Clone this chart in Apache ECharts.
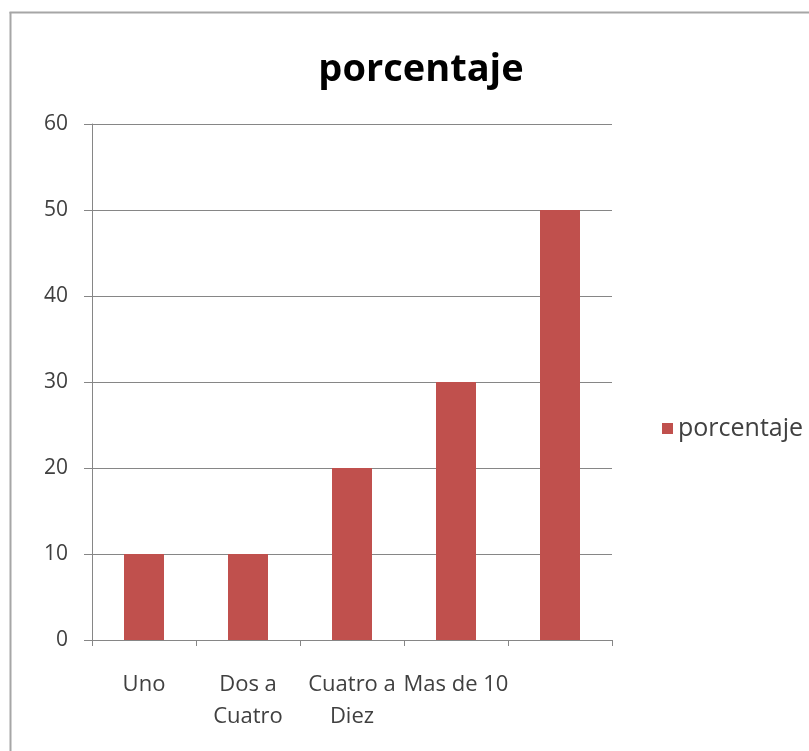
<!DOCTYPE html>
<html>
<head>
<meta charset="utf-8">
<script src="https://cdn.jsdelivr.net/npm/echarts@6/dist/echarts.min.js"></script>
<style>
html,body{margin:0;padding:0;background:#fff;}
#chart{width:809px;height:751px;}
</style>
</head>
<body>
<div id="chart"></div>
<script>
var titleText = "porcentaje";
var seriesName = "porcentaje";
var categories = ["Uno", "Dos a\nCuatro", "Cuatro a\nDiez", "Mas de 10", ""];
var values = [10, 10, 20, 30, 50];
var yMin = 0, yMax = 60, yInterval = 10;

var chart = echarts.init(document.getElementById('chart'));
chart.setOption({
  backgroundColor: '#ffffff',
  animation: false,
  title: {
    text: titleText,
    left: 416, top: 46,
    textAlign: 'center',
    textStyle: { fontFamily: 'Open Sans', fontWeight: 'bold', fontSize: 38, color: '#000' }
  },
  legend: {
    data: [seriesName],
    orient: 'vertical',
    left: 657, top: 411,
    itemWidth: 11, itemHeight: 11,
    icon: 'rect',
    textStyle: { fontFamily: 'Open Sans', fontSize: 25, color: '#404040' }
  },
  grid: { left: 92, right: 197, top: 124, bottom: 111, containLabel: false },
  xAxis: {
    type: 'category',
    data: categories,
    axisLine: { lineStyle: { color: '#868686', width: 1 } },
    axisTick: { show: true, length: 6, lineStyle: { color: '#868686' } },
    axisLabel: { fontFamily: 'Open Sans', fontSize: 22, color: '#404040', margin: 29, lineHeight: 32, interval: 0 }
  },
  yAxis: {
    type: 'value',
    min: yMin, max: yMax, interval: yInterval,
    axisLine: { show: true, lineStyle: { color: '#868686' } },
    axisTick: { show: true, length: 8, lineStyle: { color: '#868686' } },
    splitLine: { lineStyle: { color: '#868686', width: 1 } },
    axisLabel: { fontFamily: 'Open Sans', fontSize: 21, color: '#404040', margin: 24 }
  },
  series: [{
    name: seriesName,
    type: 'bar',
    data: values,
    barWidth: 40,
    itemStyle: { color: '#C0504D' }
  }],
  graphic: [
    { type: 'line', shape: { x1: 10.5, y1: 12, x2: 10.5, y2: 751 }, style: { stroke: '#a6a6a6', lineWidth: 2 } },
    { type: 'line', shape: { x1: 9.5, y1: 12.5, x2: 809, y2: 12.5 }, style: { stroke: '#a6a6a6', lineWidth: 2 } }
  ]
});
</script>
</body>
</html>
